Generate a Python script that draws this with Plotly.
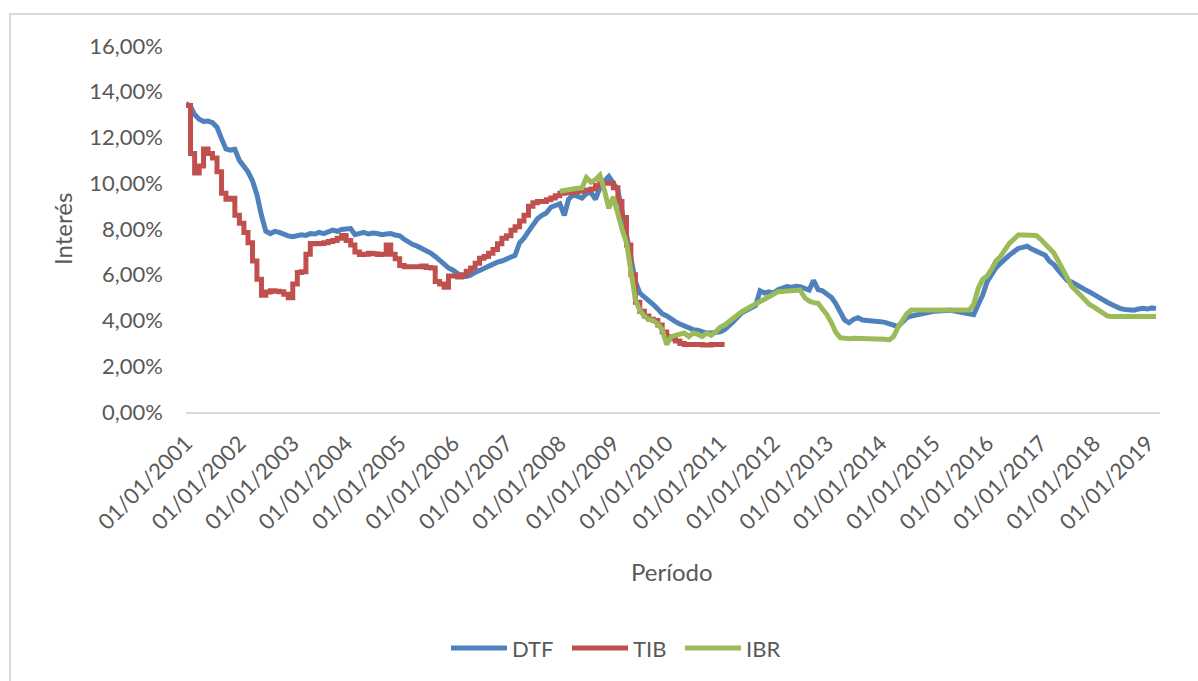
import pandas as pd
import plotly.graph_objects as go

# Tasas mensuales (%), enero 2001 en adelante
dtf = [
    13.50, 13.35, 13.00, 12.80, 12.70, 12.72, 12.65, 12.45, 11.95, 11.50, 11.45, 11.48,  # 2001
    11.00, 10.70, 10.50, 10.10, 9.50, 8.60, 7.90, 7.80, 7.90, 7.85, 7.75, 7.70,          # 2002
    7.66, 7.70, 7.75, 7.72, 7.80, 7.78, 7.85, 7.80, 7.88, 7.95, 7.90, 7.98,              # 2003
    8.00, 8.02, 7.75, 7.80, 7.85, 7.78, 7.82, 7.80, 7.75, 7.78, 7.80, 7.74,              # 2004
    7.70, 7.55, 7.42, 7.32, 7.25, 7.15, 7.08, 6.95, 6.80, 6.62, 6.50, 6.30,              # 2005
    6.20, 6.05, 5.92, 5.92, 5.98, 6.10, 6.20, 6.30, 6.35, 6.50, 6.55, 6.60,              # 2006
    6.70, 6.80, 6.85, 7.40, 7.60, 7.90, 8.20, 8.45, 8.60, 8.70, 8.95, 9.00,              # 2007
    9.10, 8.60, 9.30, 9.50, 9.40, 9.35, 9.55, 9.60, 9.30, 9.80, 10.10, 10.30,            # 2008
    10.00, 9.70, 8.80, 7.70, 6.80, 5.70, 5.20, 5.05, 4.85, 4.70, 4.50, 4.30,             # 2009
    4.20, 4.05, 3.95, 3.85, 3.75, 3.70, 3.60, 3.58, 3.50, 3.45, 3.45, 3.48,              # 2010
    3.50, 3.60, 3.75, 3.95, 4.15, 4.35, 4.45, 4.55, 4.65, 5.30, 5.20, 5.25,              # 2011
    5.20, 5.35, 5.40, 5.48, 5.45, 5.50, 5.48, 5.40, 5.33, 5.75, 5.35, 5.30,              # 2012
    5.15, 5.00, 4.75, 4.40, 4.02, 3.90, 4.05, 4.12, 4.02, 4.00, 4.00, 3.97,              # 2013
    3.95, 3.92, 3.88, 3.80, 3.73, 3.95, 4.12, 4.20, 4.25, 4.30, 4.33, 4.38,              # 2014
    4.40, 4.42, 4.44, 4.46, 4.45, 4.40, 4.35, 4.30, 4.28, 4.25, 4.70, 5.10,              # 2015
    5.70, 6.00, 6.30, 6.50, 6.70, 6.86, 7.00, 7.15, 7.20, 7.25, 7.12, 7.05,              # 2016
    6.95, 6.85, 6.60, 6.45, 6.20, 5.95, 5.75, 5.68, 5.55, 5.45, 5.35, 5.25,              # 2017
    5.15, 5.05, 4.92, 4.80, 4.70, 4.60, 4.52, 4.48, 4.45, 4.45, 4.50, 4.53,              # 2018
    4.50, 4.55, 4.52,                                                                    # 2019
]

tib = [
    13.40, 11.30, 10.45, 10.75, 11.50, 11.30, 11.10, 10.50, 9.56, 9.30, 9.34, 8.60,      # 2001
    8.25, 7.85, 7.40, 6.60, 5.80, 5.10, 5.25, 5.30, 5.28, 5.26, 5.15, 5.00,              # 2002
    5.60, 6.10, 6.13, 6.90, 7.37, 7.35, 7.37, 7.40, 7.45, 7.50, 7.60, 7.72,              # 2003
    7.50, 7.30, 7.00, 6.88, 6.90, 6.94, 6.92, 6.88, 6.90, 7.30, 6.90, 6.70,              # 2004
    6.40, 6.35, 6.35, 6.35, 6.35, 6.38, 6.32, 6.30, 5.70, 5.60, 5.45, 5.95,              # 2005
    5.95, 5.90, 6.00, 6.15, 6.30, 6.50, 6.72, 6.80, 6.94, 7.10, 7.35, 7.60,              # 2006
    7.70, 7.95, 8.10, 8.35, 8.60, 9.00, 9.15, 9.20, 9.20, 9.28, 9.35, 9.45,              # 2007
    9.56, 9.58, 9.60, 9.63, 9.65, 9.68, 9.70, 9.75, 9.90, 10.00, 10.00, 10.00,           # 2008
    9.80, 9.20, 8.50, 7.30, 6.00, 4.80, 4.40, 4.20, 4.05, 4.00, 3.80, 3.50,              # 2009
    3.30, 3.20, 3.10, 3.00, 2.95, 2.95, 2.95, 2.95, 2.93, 2.93, 2.95, 2.95,              # 2010
    2.95, 2.95,                                                                          # 2011
]

# IBR desde enero 2008
ibr = [
    9.65, 9.70, 9.72, 9.75, 9.78, 9.80, 10.25, 10.05, 10.15, 10.35, 9.70, 8.90,          # 2008
    9.40, 8.60, 8.00, 7.40, 6.30, 4.90, 4.45, 4.20, 4.05, 4.00, 3.85, 3.60,              # 2009
    2.95, 3.30, 3.35, 3.40, 3.45, 3.30, 3.45, 3.40, 3.30, 3.45, 3.35, 3.50,              # 2010
    3.70, 3.80, 3.95, 4.10, 4.30, 4.40, 4.50, 4.60, 4.70, 4.80, 4.90, 5.05,              # 2011
    5.15, 5.26, 5.28, 5.30, 5.30, 5.32, 5.33, 5.00, 4.85, 4.78, 4.75, 4.50,              # 2012
    4.25, 3.90, 3.50, 3.25, 3.22, 3.20, 3.22, 3.22, 3.20, 3.20, 3.22, 3.20,              # 2013
    3.20, 3.18, 3.15, 3.30, 3.70, 4.00, 4.30, 4.46, 4.46, 4.46, 4.46, 4.46,              # 2014
    4.46, 4.46, 4.46, 4.46, 4.46, 4.46, 4.46, 4.46, 4.46, 4.70, 5.40, 5.80,              # 2015
    5.95, 6.25, 6.60, 6.80, 7.10, 7.37, 7.55, 7.74, 7.74, 7.74, 7.74, 7.72,              # 2016
    7.55, 7.35, 7.20, 6.95, 6.60, 6.20, 5.80, 5.50, 5.30, 5.10, 4.90, 4.70,              # 2017
    4.58, 4.45, 4.30, 4.20, 4.17, 4.17, 4.17, 4.17, 4.17, 4.17, 4.17, 4.17,              # 2018
    4.17, 4.17, 4.17,                                                                    # 2019
]

# nombre, valores, primer mes, color, forma de la línea
series = [
    ("DTF", dtf, "2001-01-01", "#4F81BD", "linear"),
    ("TIB", tib, "2001-01-01", "#C0504D", "hv"),
    ("IBR", ibr, "2008-01-01", "#9BBB59", "linear"),
]

GRIS = "#595959"
FUENTE = "Lato"

fig = go.Figure()
for nombre, valores, inicio, color, forma in series:
    fechas = pd.date_range(inicio, periods=len(valores), freq="MS")
    fig.add_trace(go.Scatter(
        x=fechas, y=valores, name=nombre, mode="lines",
        line=dict(color=color, width=5, shape=forma), showlegend=False,
    ))

# Geometría del área de trazado (px)
L, R, T, B = 186, 38, 46, 269
W, H = 1198, 681
pw, ph = W - L - R, H - T - B


def px_x(x):
    return (x - L) / pw


def px_y(y):
    return (H - B - y) / ph


shapes = [
    # marco del gráfico
    dict(type="rect", xref="paper", yref="paper",
         x0=px_x(10), x1=px_x(1215), y0=px_y(700), y1=px_y(14),
         line=dict(color="#D9D9D9", width=2), fillcolor="rgba(0,0,0,0)"),
]
annotations = [
    dict(text="Interés", xref="paper", yref="paper", x=px_x(62), y=px_y(229),
         textangle=-90, showarrow=False, xanchor="center", yanchor="middle",
         font=dict(family=FUENTE, size=24, color=GRIS)),
    dict(text="Período", xref="paper", yref="paper", x=px_x(672), y=px_y(571),
         showarrow=False, xanchor="center", yanchor="middle",
         font=dict(family=FUENTE, size=24, color=GRIS)),
]

# Leyenda inferior
leyenda = [("DTF", 451, "#4F81BD"), ("TIB", 572, "#C0504D"), ("IBR", 685, "#9BBB59")]
for nombre, x0, color in leyenda:
    shapes.append(dict(type="line", xref="paper", yref="paper",
                       x0=px_x(x0), x1=px_x(x0 + 56), y0=px_y(648), y1=px_y(648),
                       line=dict(color=color, width=5)))
    annotations.append(dict(text=nombre, xref="paper", yref="paper",
                            x=px_x(x0 + 59), y=px_y(648), showarrow=False,
                            xanchor="left", yanchor="middle",
                            font=dict(family=FUENTE, size=22, color=GRIS)))

fig.update_layout(
    width=W, height=H,
    margin=dict(l=L, r=R, t=T, b=B),
    paper_bgcolor="white", plot_bgcolor="white",
    separators=",.",
    font=dict(family=FUENTE, color=GRIS),
    shapes=shapes, annotations=annotations,
    xaxis=dict(
        type="date", range=["2001-01-01", "2019-03-28"],
        tick0="2001-01-01", dtick="M12", tickformat="%d/%m/%Y",
        tickangle=-45, ticks="", showgrid=False,
        showline=True, linecolor="#D9D9D9", linewidth=1.5,
        tickfont=dict(family=FUENTE, size=22, color=GRIS),
        ticklabelstandoff=8, zeroline=False,
    ),
    yaxis=dict(
        range=[0, 16], dtick=2, tickformat=".2f", ticksuffix="%",
        ticks="", showgrid=False, zeroline=False, showline=False,
        tickfont=dict(family=FUENTE, size=22, color=GRIS),
        ticklabelstandoff=22,
    ),
)

fig.write_html("out.html")
